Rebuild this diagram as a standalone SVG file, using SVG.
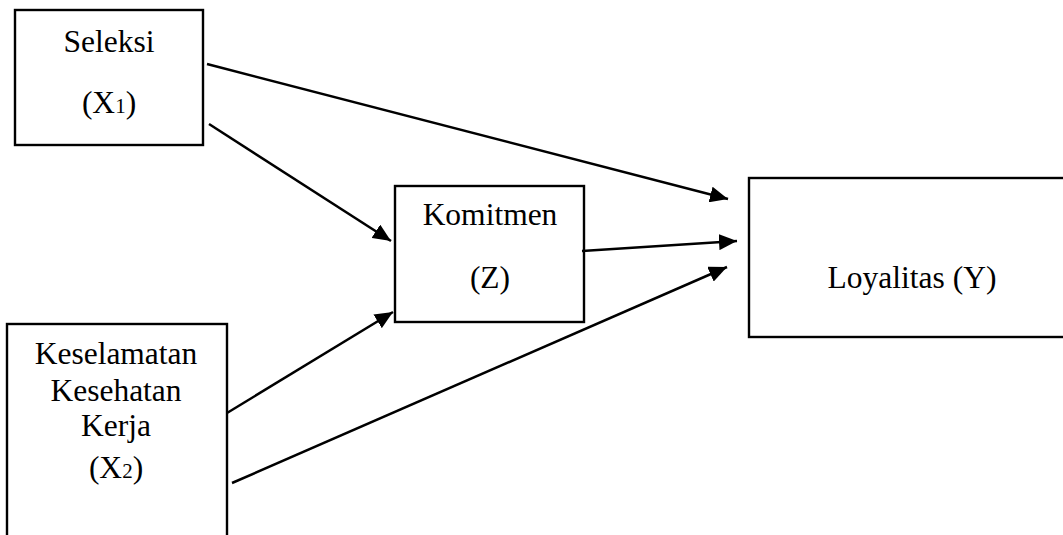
<svg xmlns="http://www.w3.org/2000/svg" width="1063" height="535" viewBox="0 0 1063 535">
<style>
.box{fill:#fff;stroke:#000;stroke-width:2.4}
.t{font-family:"Liberation Serif","Times New Roman",serif;font-size:31.5px;fill:#000;text-anchor:middle}
.c{stroke:#000;stroke-width:2.5;fill:none}
</style>
<defs>
<marker id="ah" markerUnits="userSpaceOnUse" markerWidth="19" markerHeight="16" refX="18" refY="8" orient="auto">
<path d="M0,0 L18,8 L0,16 z" fill="#000"/>
</marker>
</defs>
<rect width="1063" height="535" fill="#fff"/>
<g id="seleksi">
<rect class="box" x="15" y="10" width="188" height="135"/>
<text class="t" x="109" y="52">Seleksi</text>
<text class="t" x="109" y="113">(X<tspan font-size="21px">1</tspan>)</text>
</g>
<g id="komitmen">
<rect class="box" x="395" y="186" width="189" height="136"/>
<text class="t" x="490" y="225">Komitmen</text>
<text class="t" x="490" y="288">(Z)</text>
</g>
<g id="k3">
<rect class="box" x="7" y="324" width="220" height="230"/>
<text class="t" x="116" y="364">Keselamatan</text>
<text class="t" x="116" y="401">Kesehatan</text>
<text class="t" x="116" y="436">Kerja</text>
<text class="t" x="116" y="478">(X<tspan font-size="21px">2</tspan>)</text>
</g>
<g id="loyalitas">
<rect class="box" x="749" y="178" width="330" height="159"/>
<text class="t" x="912" y="288">Loyalitas (Y)</text>
</g>
<g id="connectors">
<line class="c" x1="207" y1="64" x2="728" y2="199" marker-end="url(#ah)"/>
<line class="c" x1="209" y1="124" x2="391" y2="241" marker-end="url(#ah)"/>
<line class="c" x1="582" y1="251" x2="737" y2="241" marker-end="url(#ah)"/>
<line class="c" x1="227" y1="413" x2="393" y2="312" marker-end="url(#ah)"/>
<line class="c" x1="232" y1="483" x2="727" y2="267" marker-end="url(#ah)"/>
</g>
</svg>
